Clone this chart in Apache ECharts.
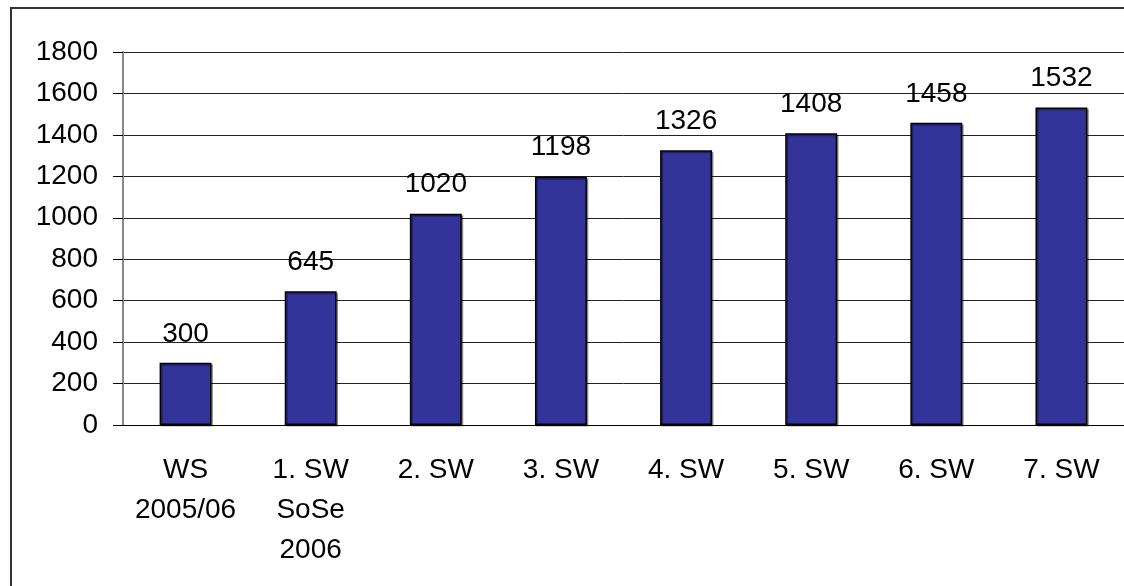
<!DOCTYPE html>
<html>
<head>
<meta charset="utf-8">
<script src="https://cdn.jsdelivr.net/npm/echarts@6/dist/echarts.min.js"></script>
<style>
html,body{margin:0;padding:0;background:#fff;}
#chart{width:1124px;height:586px;}
</style>
</head>
<body>
<div id="chart"></div>
<script>
const categories = ['WS\n2005/06', '1. SW\nSoSe\n2006', '2. SW', '3. SW', '4. SW', '5. SW', '6. SW', '7. SW'];
const values = [300, 645, 1020, 1198, 1326, 1408, 1458, 1532];
const yTicks = {min: 0, max: 1800, interval: 200};

const font = "'Liberation Sans', Arial, sans-serif";
const chart = echarts.init(document.getElementById('chart'), null, {renderer: 'canvas'});
chart.setOption({
  animation: false,
  backgroundColor: '#fff',
  graphic: [{
    type: 'rect',
    shape: {x: 11, y: 8, width: 1300, height: 700},
    style: {fill: 'none', stroke: '#333', lineWidth: 2},
    silent: true
  }],
  grid: {left: 123, top: 52, right: 0, bottom: 161, containLabel: false},
  xAxis: {
    type: 'category',
    data: categories,
    axisLine: {show: true, lineStyle: {color: '#000', width: 1}},
    axisTick: {show: false},
    axisLabel: {
      color: '#000', fontFamily: font, fontSize: 28, lineHeight: 40,
      margin: 25, interval: 0
    }
  },
  yAxis: {
    type: 'value',
    min: yTicks.min, max: yTicks.max, interval: yTicks.interval,
    axisLine: {show: true, lineStyle: {color: '#888', width: 2}},
    axisTick: {show: true, length: 10, lineStyle: {color: '#000', width: 1}},
    axisLabel: {color: '#000', fontFamily: font, fontSize: 28, margin: 25,
      formatter: v => String(v)},
    splitLine: {show: true, lineStyle: {color: '#222', width: 1}}
  },
  series: [{
    type: 'bar',
    data: values,
    barWidth: '41.5%',
    itemStyle: {
      color: '#333399', borderColor: '#000', borderWidth: 1.5,
      shadowColor: 'rgba(0,0,0,0.35)', shadowBlur: 0, shadowOffsetX: 1.5, shadowOffsetY: 1.5
    },
    label: {
      show: true, position: 'top', distance: 15,
      color: '#000', fontFamily: font, fontSize: 28
    }
  }]
});
</script>
</body>
</html>
